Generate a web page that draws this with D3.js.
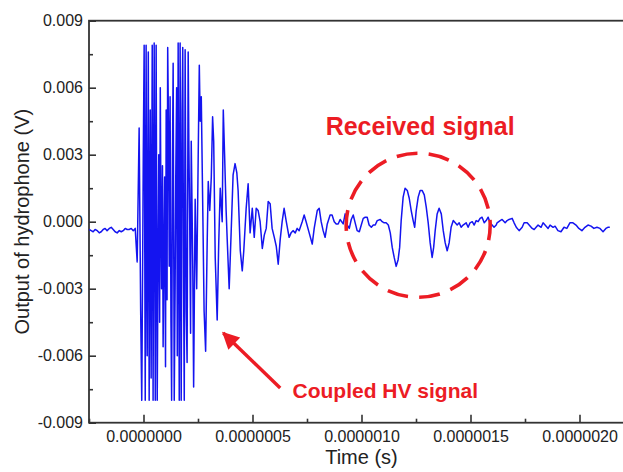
<!DOCTYPE html>
<html>
<head>
<meta charset="utf-8">
<script src="https://cdn.jsdelivr.net/npm/d3@7"></script>
<style>
  body { margin: 0; background: #fff; }
  svg { display: block; font-family: "Liberation Sans", Arial, sans-serif; }
  .tick text { fill: #222; font-size: 16px; }
  .tick line { stroke: #333; stroke-width: 1.6; }
</style>
</head>
<body>
<svg id="chart" width="623" height="472"></svg>
<script>
// time of each sample, microseconds
var timeUs = [
  -0.249, -0.240, -0.231, -0.222, -0.212, -0.203, -0.194, -0.185, -0.176, -0.167,
  -0.157, -0.148, -0.139, -0.130, -0.121, -0.111, -0.102, -0.093, -0.084, -0.075,
  -0.066, -0.056, -0.047, -0.038,
  -0.029, -0.020, -0.013, -0.008, -0.004, -0.001, 0.003, 0.008,
  0.012, 0.015, 0.017, 0.022, 0.026, 0.029, 0.031, 0.035,
  0.040, 0.044, 0.049, 0.054, 0.058, 0.063, 0.067, 0.070,
  0.074, 0.077, 0.080, 0.083, 0.087, 0.090, 0.094, 0.097,
  0.101, 0.104, 0.108, 0.111, 0.115, 0.118, 0.122, 0.126,
  0.129, 0.133, 0.136, 0.141, 0.145, 0.148, 0.152, 0.155,
  0.159, 0.164, 0.168, 0.173, 0.177, 0.180, 0.184, 0.187,
  0.191, 0.194, 0.196, 0.200, 0.205, 0.208, 0.212, 0.216,
  0.219, 0.226, 0.230,
  0.237, 0.244, 0.251, 0.256, 0.260, 0.265, 0.272, 0.278, 0.285,
  0.292, 0.297, 0.304, 0.311, 0.317, 0.322, 0.329, 0.338, 0.345, 0.352,
  0.361, 0.366, 0.372, 0.379, 0.384, 0.393, 0.402, 0.411, 0.420, 0.428,
  0.434, 0.444, 0.453, 0.460, 0.471, 0.480, 0.489, 0.499, 0.508, 0.517,
  0.526, 0.535, 0.545, 0.554, 0.563, 0.572, 0.581, 0.590, 0.600, 0.609,
  0.618, 0.627, 0.636, 0.645, 0.655, 0.668, 0.677, 0.686, 0.696, 0.705,
  0.714, 0.728, 0.737, 0.746, 0.760, 0.774, 0.783, 0.797, 0.806, 0.815,
  0.824, 0.833, 0.843, 0.856, 0.865, 0.875, 0.884, 0.893, 0.902, 0.916,
  0.925, 0.935, 0.944, 0.953, 0.962, 0.971, 0.980, 0.990, 0.999, 1.008,
  1.017, 1.026, 1.035, 1.045, 1.054, 1.063, 1.072, 1.086, 1.095, 1.104,
  1.113, 1.123, 1.132, 1.141, 1.150, 1.159, 1.168, 1.175, 1.182, 1.191,
  1.200, 1.210, 1.219, 1.228, 1.237, 1.244, 1.251, 1.260, 1.269, 1.278,
  1.288, 1.297, 1.306, 1.315, 1.324, 1.331, 1.338, 1.347, 1.356, 1.366,
  1.375, 1.384, 1.393, 1.402, 1.411, 1.421, 1.430, 1.439, 1.448, 1.457,
  1.466, 1.480, 1.489, 1.498, 1.508, 1.517, 1.526, 1.535, 1.544, 1.553,
  1.563, 1.572, 1.581, 1.590, 1.599, 1.608, 1.618, 1.622, 1.636, 1.645,
  1.659, 1.668, 1.677, 1.691, 1.700, 1.710, 1.723, 1.737, 1.746, 1.760,
  1.769, 1.783, 1.792, 1.801, 1.810, 1.824, 1.833, 1.847, 1.856, 1.865,
  1.879, 1.888, 1.901, 1.915, 1.929, 1.942, 1.956, 1.970, 1.984, 1.997,
  2.011, 2.025, 2.039, 2.053, 2.066, 2.080, 2.094, 2.108, 2.121, 2.130,
  2.139
];

// hydrophone output, millivolts
var outputMv = [
  -0.35, -0.40, -0.45, -0.35, -0.40, -0.50, -0.45, -0.35, -0.30, -0.40,
  -0.30, -0.25, -0.35, -0.45, -0.50, -0.40, -0.45, -0.40, -0.30, -0.35,
  -0.35, -0.30, -0.40, -0.30,
  -1.80, 4.20, -4.00, -8.00, -2.00, 3.00, 7.90, -8.00,
  7.90, -2.00, -6.00, 7.60, -8.00, 1.00, 5.00, -7.00,
  7.90, -8.00, 8.00, -8.00, 7.90, -8.00, -1.00, 3.00,
  -4.50, 6.00, 0.50, -3.00, 2.50, -5.60, -1.00, 2.00,
  -6.50, 5.00, -3.50, 7.80, 4.00, -2.00, 5.60, -4.50,
  -8.00, 3.00, 7.10, -8.00, -3.00, 2.00, 6.00, -6.00,
  8.00, -8.00, 8.00, -8.00, 5.00, 7.80, -3.00, -8.00,
  7.70, 1.00, -4.00, -6.30, 7.60, 3.50, 0.00, -5.00,
  3.60, -2.00, -7.40,
  1.00, -3.00, 3.00, 7.00, 4.50, 5.60, 0.50, -4.00, -5.80,
  -1.00, 1.80, 0.50, 2.00, 4.70, 3.60, -1.60, -4.40, -1.00, 1.50,
  0.00, 5.00, 3.00, 0.50, -0.80, -3.00, -0.50, 2.10, 2.60, 2.20,
  1.40, -1.30, -2.20, -1.30, 0.60, 1.70, -0.50, 0.60, -0.70, 0.60,
  0.50, 0.00, -1.20, -0.60, -0.30, 0.90, 0.80, -0.30, -0.70, -1.10,
  -1.90, -0.80, 0.00, 0.60, 0.00, -0.70, -0.50, -0.40, -0.50, -0.30,
  -0.40, 0.00, 0.30, 0.00, -0.50, -1.00, -0.30, 0.50, 0.60, 0.00,
  -0.40, -0.70, -0.10, 0.30, 0.30, 0.00, -0.10, -0.10, 0.10, -0.10,
  0.35, -0.15, -0.30, 0.10, 0.30, -0.05, -0.40, -0.45, -0.15, 0.15,
  0.20, 0.20, -0.15, -0.25, -0.15, -0.15, 0.05, 0.10, 0.00, -0.05,
  -0.05, -0.15, -0.50, -1.15, -1.60, -2.00, -1.70, -1.15, 0.05, 1.10,
  1.50, 1.40, 1.05, 0.50, 0.05, -0.25, 0.50, 1.10, 1.40, 1.40,
  1.20, 0.65, -0.05, -0.95, -1.60, -1.15, -0.40, 0.35, 0.60, 0.35,
  -0.40, -0.95, -1.30, -0.95, -0.25, 0.05, -0.05, -0.15, -0.05, -0.25,
  -0.15, -0.05, -0.25, -0.05, 0.00, -0.15, 0.05, 0.00, 0.15, 0.20,
  -0.05, 0.05, 0.20, -0.05, -0.15, -0.25, -0.15, -0.05, 0.05, 0.10,
  -0.05, 0.05, 0.10, 0.15, -0.05, -0.25, -0.40, -0.25, -0.05, -0.05,
  -0.15, -0.30, -0.35, -0.25, -0.15, -0.25, -0.05, -0.20, -0.30, -0.15,
  -0.25, -0.20, -0.40, -0.45, -0.25, -0.30, -0.05, -0.05, -0.15, -0.30,
  -0.40, -0.25, -0.15, -0.20, -0.30, -0.25, -0.30, -0.45, -0.30, -0.25,
  -0.25
];

var xMajorTicks = [0, 0.5, 1.0, 1.5, 2.0];
var xMinorTicks = [-0.25, 0.25, 0.75, 1.25, 1.75];
var yMajorTicks = [-9, -6, -3, 0, 3, 6, 9];
var yMinorTicks = [-7.5, -4.5, -1.5, 1.5, 4.5, 7.5];

var red = "#ec1c24";

function drawChart() {
    var svg = d3.select("#chart");

    var left = 89, right = 634, top = 20.7, bottom = 422.7;

    var x = d3.scaleLinear().domain([-0.25, 2.25]).range([left, right]);
    var y = d3.scaleLinear().domain([-9, 9]).range([bottom, top]);

    // axes, ticks pointing inward
    var xAxis = d3.axisBottom(x)
        .tickValues(xMajorTicks)
        .tickSize(-8)
        .tickSizeOuter(0)
        .tickPadding(8)
        .tickFormat(function (d) { return (d * 1e-6).toFixed(7); });

    var yAxis = d3.axisLeft(y)
        .tickValues(yMajorTicks)
        .tickSize(-7)
        .tickSizeOuter(0)
        .tickPadding(6)
        .tickFormat(function (d) { return (d / 1000).toFixed(3); });

    svg.append("g").attr("transform", "translate(0," + bottom + ")").call(xAxis)
        .call(function (g) { g.select(".domain").remove(); });
    svg.append("g").attr("transform", "translate(" + left + ",0)").call(yAxis)
        .call(function (g) { g.select(".domain").remove(); });

    svg.append("g").attr("transform", "translate(0," + bottom + ")")
        .call(d3.axisBottom(x).tickValues(xMinorTicks).tickSize(-4).tickFormat(""))
        .call(function (g) { g.select(".domain").remove(); });
    svg.append("g").attr("transform", "translate(" + left + ",0)")
        .call(d3.axisLeft(y).tickValues(yMinorTicks).tickSize(-4).tickFormat(""))
        .call(function (g) { g.select(".domain").remove(); });

    svg.selectAll(".tick text").style("font-size", "16px").attr("fill", "#222");

    // frame
    svg.append("rect")
        .attr("x", left).attr("y", top)
        .attr("width", right - left).attr("height", bottom - top)
        .attr("fill", "none")
        .attr("stroke", "#333")
        .attr("stroke-width", 1.8);

    // waveform
    var line = d3.line()
        .x(function (d, i) { return x(timeUs[i]); })
        .y(function (d) { return y(d); });

    svg.append("path")
        .datum(outputMv)
        .attr("d", line)
        .attr("fill", "none")
        .attr("stroke", "#1414f0")
        .attr("stroke-width", 1.5)
        .attr("stroke-linejoin", "round");

    // axis titles
    svg.append("text")
        .attr("x", x(1.0))
        .attr("y", 464)
        .attr("text-anchor", "middle")
        .attr("font-size", "20px")
        .attr("fill", "#222")
        .text("Time (s)");

    svg.append("text")
        .attr("transform", "translate(29," + y(0) + ") rotate(-90)")
        .attr("text-anchor", "middle")
        .attr("font-size", "20px")
        .attr("fill", "#222")
        .text("Output of hydrophone (V)");

    // annotations
    svg.append("circle")
        .attr("cx", x(1.26))
        .attr("cy", y(-0.16))
        .attr("r", 72)
        .attr("fill", "none")
        .attr("stroke", red)
        .attr("stroke-width", 3.6)
        .attr("stroke-dasharray", "21,11.3")
        .attr("stroke-dashoffset", 6);

    svg.append("text")
        .attr("x", x(1.269))
        .attr("y", y(3.88))
        .attr("text-anchor", "middle")
        .attr("font-size", "25px")
        .attr("font-weight", "bold")
        .attr("fill", red)
        .text("Received signal");

    svg.append("text")
        .attr("x", x(1.109))
        .attr("y", y(-7.9))
        .attr("text-anchor", "middle")
        .attr("font-size", "21px")
        .attr("font-weight", "bold")
        .attr("fill", red)
        .text("Coupled HV signal");

    svg.append("defs").append("marker")
        .attr("id", "head")
        .attr("viewBox", "0 0 10 10")
        .attr("refX", 9)
        .attr("refY", 5)
        .attr("markerWidth", 5.5)
        .attr("markerHeight", 5)
        .attr("markerUnits", "strokeWidth")
        .attr("orient", "auto")
        .append("path")
        .attr("d", "M0,0 L10,5 L0,10 Z")
        .attr("fill", red);

    svg.append("line")
        .attr("x1", x(0.627)).attr("y1", y(-7.45))
        .attr("x2", x(0.366)).attr("y2", y(-4.98))
        .attr("stroke", red)
        .attr("stroke-width", 3.4)
        .attr("marker-end", "url(#head)");
}

drawChart();
</script>
</body>
</html>
